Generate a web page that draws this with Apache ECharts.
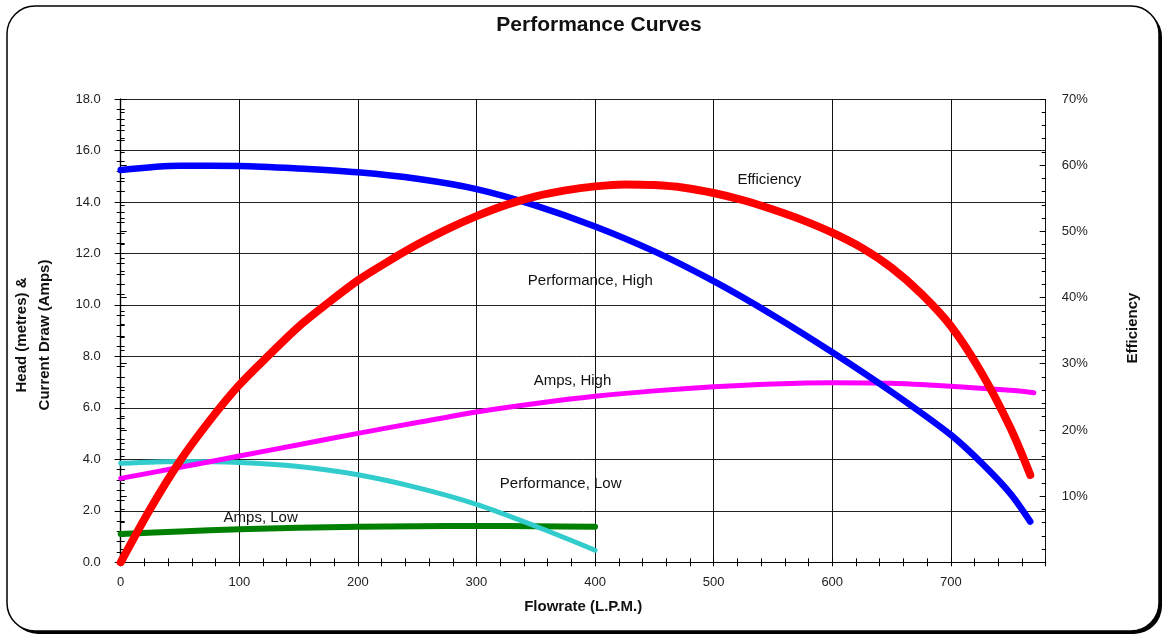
<!DOCTYPE html>
<html>
<head>
<meta charset="utf-8">
<script src="https://cdn.jsdelivr.net/npm/echarts@6/dist/echarts.min.js"></script>
<style>html,body{margin:0;padding:0;background:#fff}#c{width:1165px;height:637px}</style>
</head>
<body>
<div id="c"></div>
<script>
// ---- data ----
const flowHigh = [0, 50, 100, 150, 200, 250, 300, 350, 400, 450, 500, 550, 600, 650, 700, 725, 750, 767];
const headHigh = [15.24, 15.41, 15.40, 15.30, 15.15, 14.90, 14.50, 13.86, 13.05, 12.08, 10.92, 9.60, 8.16, 6.62, 4.95, 3.90, 2.68, 1.58];

const flowEff = [0, 25, 50, 75, 100, 125, 150, 175, 200, 225, 250, 275, 300, 325, 350, 375, 400, 425, 450, 475, 500, 525, 550, 575, 600, 625, 650, 675, 700, 725, 750, 767];
const efficiency = [0, 8.1, 15.3, 21.4, 26.8, 31.3, 35.6, 39.2, 42.6, 45.4, 48.0, 50.3, 52.3, 54.0, 55.3, 56.2, 56.8, 57.1, 57.0, 56.6, 55.8, 54.7, 53.3, 51.7, 49.8, 47.5, 44.5, 40.6, 35.7, 28.9, 20.4, 13.2];

const flowAmpsHigh = [0, 50, 100, 150, 200, 250, 300, 350, 400, 450, 500, 550, 600, 650, 700, 750, 770];
const ampsHigh = [3.26, 3.69, 4.13, 4.57, 5.01, 5.43, 5.84, 6.17, 6.45, 6.66, 6.82, 6.93, 6.98, 6.96, 6.84, 6.68, 6.59];

const flowLow = [0, 50, 100, 150, 200, 250, 300, 350, 400];
const headLow = [3.85, 3.92, 3.88, 3.72, 3.40, 2.90, 2.25, 1.40, 0.47];

const flowAmpsLow = [0, 50, 100, 150, 200, 250, 300, 350, 400];
const ampsLow = [1.10, 1.20, 1.28, 1.34, 1.38, 1.40, 1.41, 1.40, 1.38];

// curve labels: [text, x, y]
const labelEff = ['Efficiency', 547, 57.8];
const labelPerfHigh = ['Performance, High', 396, 10.93];
const labelAmpsHigh = ['Amps, High', 381, 7.04];
const labelPerfLow = ['Performance, Low', 371, 3.04];
const labelAmpsLow = ['Amps, Low', 118, 1.72];

const xTickLabels = ['0', '100', '200', '300', '400', '500', '600', '700'];

// ---- chart ----
const FONT = '"Liberation Sans", Arial, sans-serif';
const zip = (a, b) => a.map((v, i) => [v, b[i]]);
const mp = (lab) => ({
  symbol: 'circle', symbolSize: 1, silent: true,
  itemStyle: { color: 'rgba(0,0,0,0)' },
  label: { show: true, position: 'inside', formatter: lab[0], color: '#111', fontSize: 15, fontFamily: FONT },
  data: [{ coord: [lab[1], lab[2]] }]
});
const lineSeries = (name, data, color, width, yIdx, lab) => ({
  name, type: 'line', data, xAxisIndex: 0, yAxisIndex: yIdx,
  smooth: 0.3, showSymbol: false, symbol: 'none',
  lineStyle: { color, width, cap: 'round', join: 'round' },
  markPoint: mp(lab), z: 2
});

const chart = echarts.init(document.getElementById('c'));
chart.setOption({
  animation: false,
  backgroundColor: 'transparent',
  textStyle: { fontFamily: FONT },
  title: {
    text: 'Performance Curves', left: 594, top: 10, textAlign: 'center',
    textStyle: { fontSize: 21, fontWeight: 'bold', color: '#111', fontFamily: FONT }
  },
  graphic: [
    { type: 'rect', z: -100, shape: { x: 10, y: 9, width: 1152, height: 625, r: 28 }, style: { fill: '#000' } },
    { type: 'rect', z: -99, shape: { x: 7, y: 6, width: 1152, height: 625, r: 28 }, style: { fill: '#fff', stroke: '#000', lineWidth: 1.5 } },
    { type: 'text', x: 22, y: 335, rotation: Math.PI / 2,
      style: { text: 'Head (metres) &', fill: '#111', font: 'bold 15px ' + FONT, textAlign: 'center', textVerticalAlign: 'middle' } },
    { type: 'text', x: 45, y: 335, rotation: Math.PI / 2,
      style: { text: 'Current Draw (Amps)', fill: '#111', font: 'bold 15px ' + FONT, textAlign: 'center', textVerticalAlign: 'middle' } },
    { type: 'text', x: 1133, y: 328, rotation: Math.PI / 2,
      style: { text: 'Efficiency', fill: '#111', font: 'bold 15px ' + FONT, textAlign: 'center', textVerticalAlign: 'middle' } }
  ],
  grid: { left: 120.7, right: 119.3, top: 99, bottom: 74.7, containLabel: false },
  xAxis: [
    {
      type: 'value', min: 0, max: 780, interval: 20, position: 'bottom',
      name: 'Flowrate (L.P.M.)', nameLocation: 'middle', nameGap: 37,
      nameTextStyle: { fontSize: 15, fontWeight: 'bold', color: '#111', fontFamily: FONT },
      axisLine: { show: true, lineStyle: { color: '#000', width: 1.2 } },
      axisTick: { show: true, inside: false, length: 4, lineStyle: { color: '#000' } },
      axisLabel: {
        margin: 14, fontSize: 13, color: '#222', fontFamily: FONT,
        formatter: v => { const i = xTickLabels.indexOf(String(Math.round(v))); return (Math.abs(v % 100) < 1e-6 && i >= 0) ? xTickLabels[i] : ''; }
      },
      splitLine: { show: false }
    },
    {
      type: 'value', min: 0, max: 780, interval: 20, position: 'bottom',
      axisLine: { show: false }, axisLabel: { show: false }, splitLine: { show: false },
      axisTick: { show: true, inside: true, length: 4, lineStyle: { color: '#000' } }
    },
    {
      type: 'value', min: 0, max: 780, interval: 100, position: 'bottom',
      axisLine: { show: false }, axisLabel: { show: false }, axisTick: { show: false },
      splitLine: { show: true, lineStyle: { color: '#111', width: 1 } }
    }
  ],
  yAxis: [
    {
      type: 'value', min: 0, max: 18, interval: 2, position: 'left',
      axisLine: { show: true, lineStyle: { color: '#000', width: 1.2 } },
      axisTick: { show: true, inside: false, length: 6, lineStyle: { color: '#000' } },
      minorTick: { show: true, splitNumber: 5, length: 4, lineStyle: { color: '#000' } },
      axisLabel: { margin: 20, fontSize: 13, color: '#222', fontFamily: FONT, formatter: v => v.toFixed(1) },
      splitLine: { show: true, lineStyle: { color: '#222', width: 1 } }
    },
    {
      type: 'value', min: 0, max: 70, interval: 10, position: 'right',
      axisLine: { show: true, lineStyle: { color: '#000', width: 1.2 } },
      axisTick: { show: true, inside: false, length: 6, lineStyle: { color: '#000' } },
      minorTick: { show: true, splitNumber: 5, length: 4, lineStyle: { color: '#000' } },
      axisLabel: { margin: 16, fontSize: 13, color: '#222', fontFamily: FONT, formatter: v => v === 0 ? '' : v + '%' },
      splitLine: { show: false }
    },
    {
      type: 'value', min: 0, max: 18, interval: 2, position: 'left',
      axisLine: { show: false }, axisLabel: { show: false }, splitLine: { show: false },
      axisTick: { show: true, inside: true, length: 4, lineStyle: { color: '#000' } },
      minorTick: { show: true, splitNumber: 5, length: 4, lineStyle: { color: '#000' } }
    },
    {
      type: 'value', min: 0, max: 70, interval: 10, position: 'right',
      axisLine: { show: false }, axisLabel: { show: false }, splitLine: { show: false },
      axisTick: { show: true, inside: true, length: 6, lineStyle: { color: '#000' } },
      minorTick: { show: true, splitNumber: 5, length: 4, lineStyle: { color: '#000' } }
    }
  ],
  series: [
    lineSeries('Amps, Low', zip(flowAmpsLow, ampsLow), '#008000', 6, 0, labelAmpsLow),
    lineSeries('Performance, Low', zip(flowLow, headLow), '#33CCCC', 5, 0, labelPerfLow),
    lineSeries('Amps, High', zip(flowAmpsHigh, ampsHigh), '#FF00FF', 5, 0, labelAmpsHigh),
    lineSeries('Performance, High', zip(flowHigh, headHigh), '#0000FF', 6.5, 0, labelPerfHigh),
    lineSeries('Efficiency', zip(flowEff, efficiency), '#FF0000', 8, 1, labelEff)
  ]
});
</script>
</body>
</html>
